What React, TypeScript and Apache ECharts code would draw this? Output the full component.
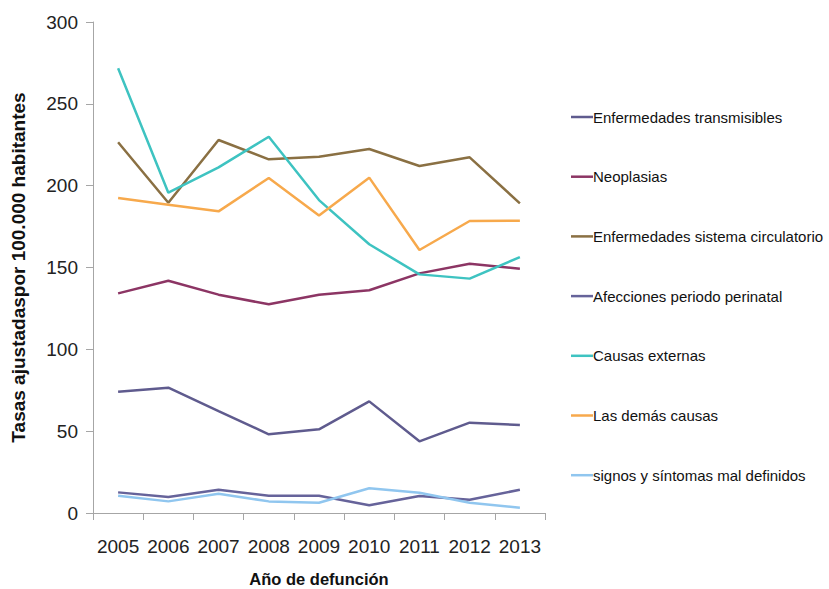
import React, { useEffect, useRef } from "react";
import * as echarts from "echarts";

const years = ["2005", "2006", "2007", "2008", "2009", "2010", "2011", "2012", "2013"];
const transmisibles = [74.1, 76.6, 62.3, 48.1, 51.1, 68.2, 43.8, 55.2, 53.8];
const neoplasias = [134.2, 141.9, 133.4, 127.5, 133.4, 136.1, 146.4, 152.3, 149.3];
const circulatorio = [226.5, 189.6, 227.9, 216.1, 217.7, 222.4, 212.0, 217.3, 189.2];
const perinatal = [12.6, 9.8, 14.2, 10.6, 10.6, 4.7, 10.4, 8.1, 14.2];
const externas = [271.7, 195.7, 211.2, 229.9, 191.2, 164.2, 145.8, 143.2, 156.4];
const demas = [192.5, 188.4, 184.3, 204.7, 181.7, 204.9, 160.7, 178.4, 178.6];
const signos = [10.6, 7.1, 11.8, 7.1, 6.3, 15.1, 12.4, 6.3, 3.2];

const seriesDefs = [
  { name: "Enfermedades transmisibles", data: transmisibles, color: "#5F5B8E" },
  { name: "Neoplasias", data: neoplasias, color: "#8C3564" },
  { name: "Enfermedades sistema circulatorio", data: circulatorio, color: "#8A7043" },
  { name: "Afecciones periodo perinatal", data: perinatal, color: "#66639A" },
  { name: "Causas externas", data: externas, color: "#3EC3C1" },
  { name: "Las demás causas", data: demas, color: "#F7A94C" },
  { name: "signos y síntomas mal definidos", data: signos, color: "#90C6EF" },
];

const FONT = "'Liberation Sans', Arial, sans-serif";

export default function App() {
  const ref = useRef<HTMLDivElement>(null);
  useEffect(() => {
    if (!ref.current) return;
    const chart = echarts.init(ref.current, undefined, { renderer: "svg" });
    chart.setOption({
      animation: false,
      backgroundColor: "#ffffff",
      grid: { left: 93, right: 284, top: 22, bottom: 76, containLabel: false, outerBoundsMode: "none" },
      legend: {
        orient: "vertical",
        left: 566,
        top: 103,
        icon: "rect",
        itemWidth: 22,
        itemHeight: 2.5,
        itemGap: 41.7,
        textStyle: {
          fontFamily: FONT,
          fontSize: 15,
          color: "#111",
          padding: [0, 0, 0, -5],
          lineHeight: 18,
        },
        data: seriesDefs.map((s) => s.name),
      },
      xAxis: {
        type: "category",
        data: years,
        boundaryGap: true,
        name: "Año de defunción",
        nameLocation: "middle",
        nameGap: 57,
        nameTextStyle: {
          fontFamily: FONT,
          fontWeight: "bold",
          fontSize: 16.5,
          color: "#111",
        },
        axisLine: { lineStyle: { color: "#A6A6A6", width: 1 } },
        axisTick: { show: true, length: 7, lineStyle: { color: "#A6A6A6" } },
        axisLabel: {
          interval: 0,
          fontFamily: FONT,
          fontSize: 19,
          color: "#222",
          margin: 24,
        },
      },
      yAxis: {
        type: "value",
        min: 0,
        max: 300,
        interval: 50,
        name: "Tasas ajustadaspor 100.000 habitantes",
        nameLocation: "middle",
        nameGap: 65,
        nameTextStyle: {
          fontFamily: FONT,
          fontWeight: "bold",
          fontSize: 19,
          color: "#111",
        },
        axisLine: { show: true, lineStyle: { color: "#A6A6A6", width: 1 } },
        axisTick: { show: true, length: 7, lineStyle: { color: "#A6A6A6" } },
        splitLine: { show: false },
        axisLabel: {
          fontFamily: FONT,
          fontSize: 19,
          color: "#222",
          margin: 15,
        },
      },
      series: seriesDefs.map((s) => ({
        name: s.name,
        type: "line",
        data: s.data,
        showSymbol: false,
        symbol: "none",
        color: s.color,
        lineStyle: { color: s.color, width: 2.5 },
        itemStyle: { color: s.color },
      })),
    });
    return () => chart.dispose();
  }, []);
  return <div ref={ref} style={{ width: 829, height: 589, position: "absolute", left: 0, top: 0 }} />;
}
